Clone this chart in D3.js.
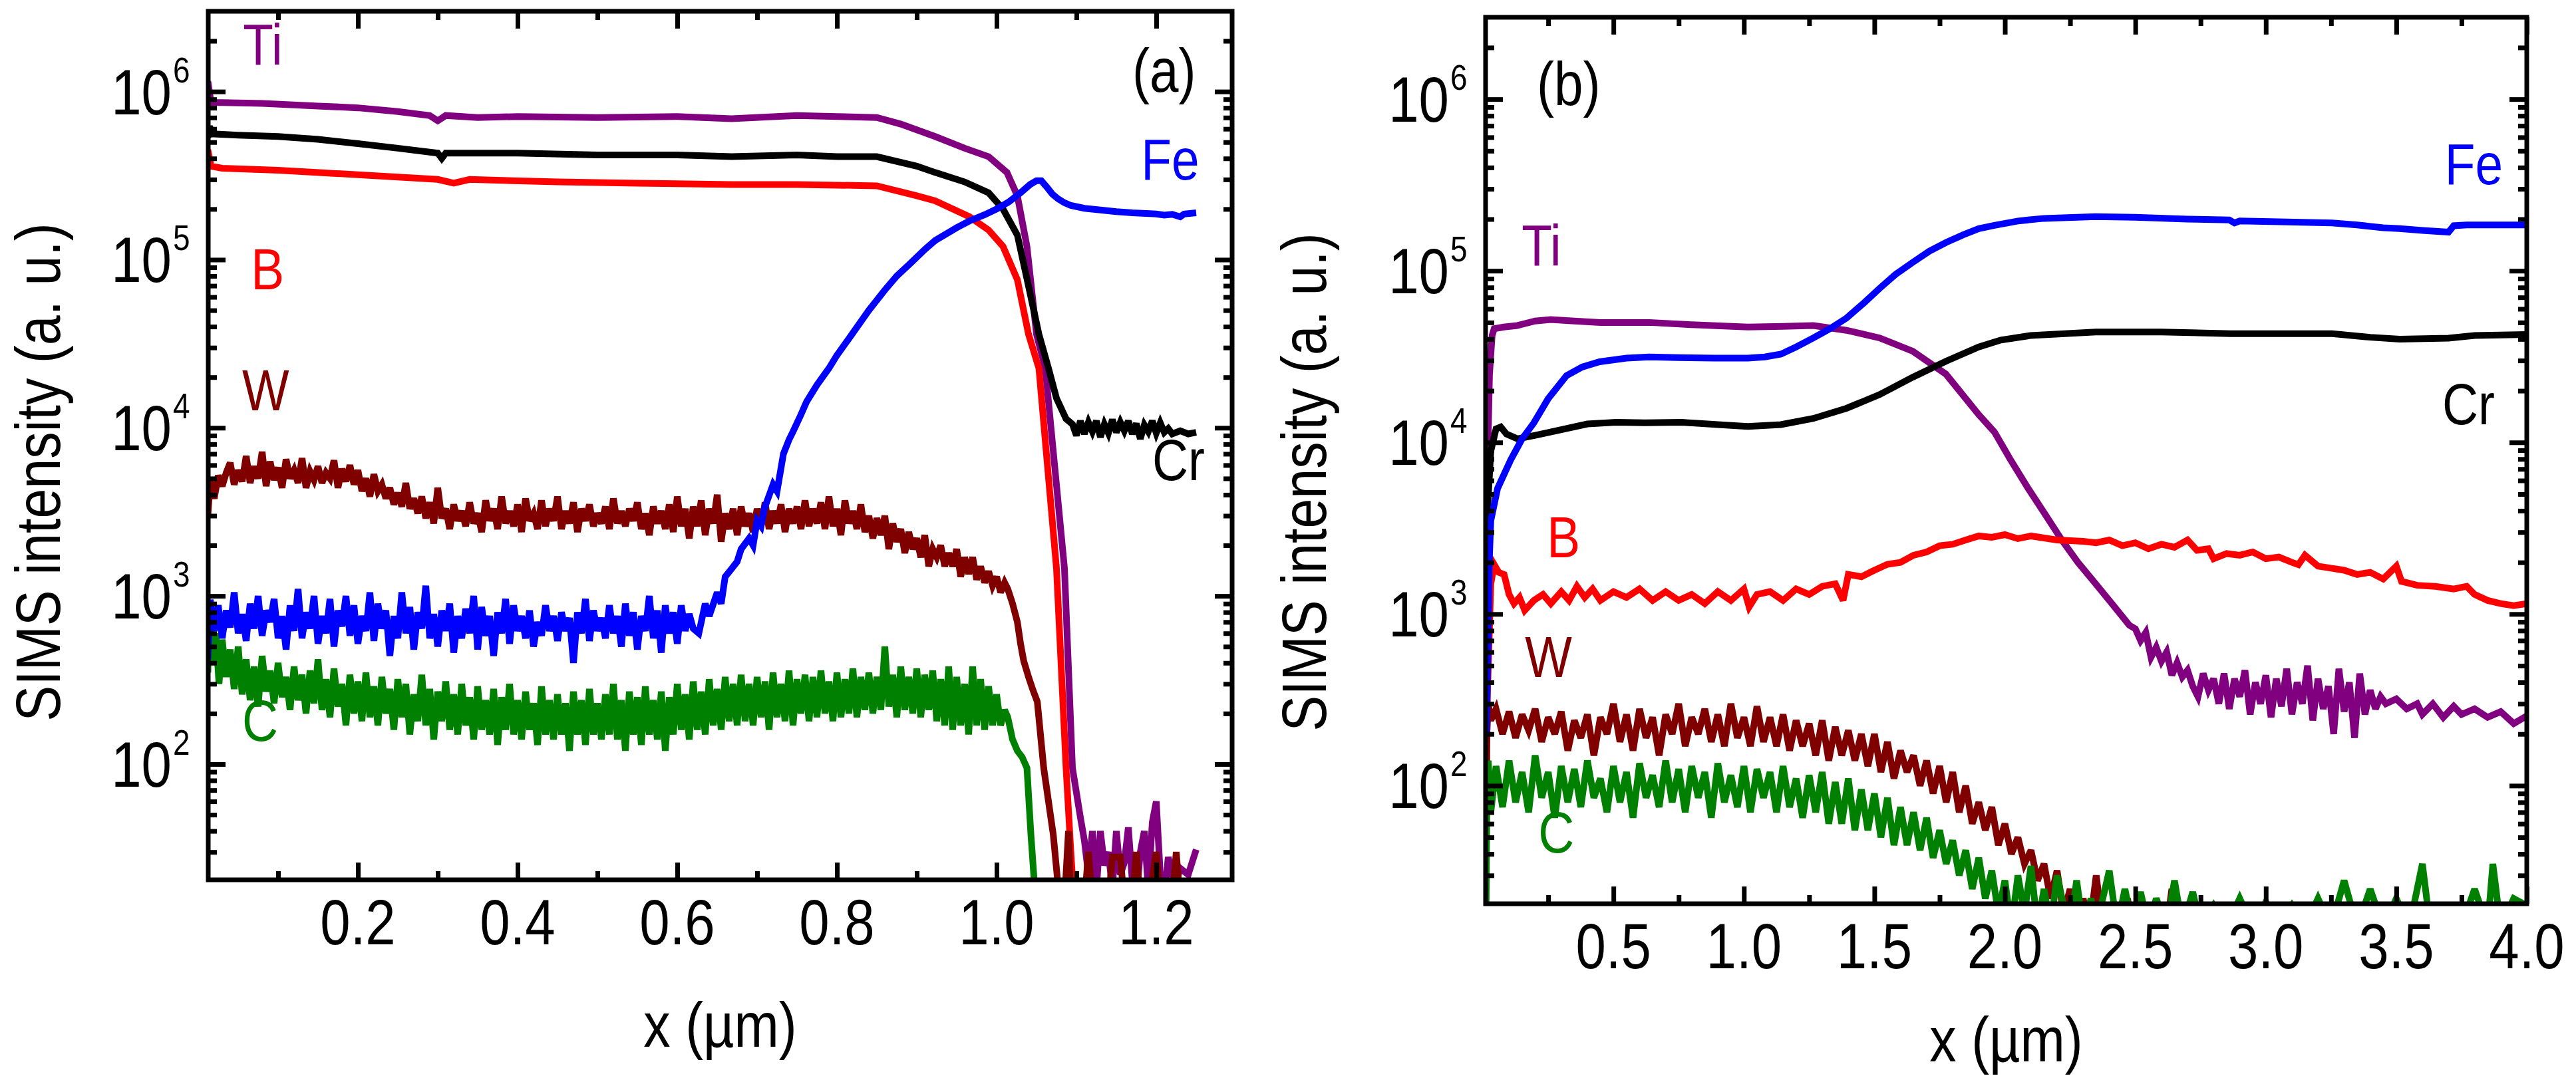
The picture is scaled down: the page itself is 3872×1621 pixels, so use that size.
<!DOCTYPE html>
<html>
<head>
<meta charset="utf-8">
<script src="https://cdn.jsdelivr.net/npm/d3@7"></script>
<style>
  html, body { margin: 0; padding: 0; background: #fff; }
  svg text { font-family: "Liberation Sans", Arial, sans-serif; }
</style>
</head>
<body>
<svg id="chart" width="3872" height="1621"></svg>
<script>
// ---------- data, panel (a) : [x (um), intensity] ----------
const tiA = [[0.012,1.15e6],[0.016,8.6e5],[0.03,8.6e5],[0.08,8.5e5],[0.15,8.2e5],[0.2,8.0e5],[0.25,7.6e5],[0.29,7.2e5],[0.3,6.7e5],[0.31,7.2e5],[0.35,7.0e5],[0.4,7.1e5],[0.5,7.0e5],[0.6,7.1e5],[0.668,6.9e5],[0.75,7.2e5],[0.8,7.1e5],[0.85,7.0e5],[0.88,6.4e5],[0.923,5.4e5],[0.96,4.6e5],[0.99,4.1e5],[1.013,3.3e5],[1.026,2.4e5],[1.038,1.2e5],[1.05,3.6e4],[1.061,2.26e4],[1.085,1.46e3],[1.095,95],[1.105,48],[1.11,35],[1.115,22],[1.12,40],[1.125,18],[1.13,40],[1.135,25],[1.14,30],[1.145,18],[1.15,40],[1.155,22],[1.16,26],[1.165,42],[1.17,20],[1.175,16],[1.18,30],[1.185,40],[1.19,18],[1.195,45],[1.2,60],[1.205,22],[1.21,16],[1.215,28],[1.22,22],[1.225,20],[1.23,24],[1.24,22],[1.25,31]];
const crA = [[0.012,5.3e5],[0.014,6.2e5],[0.018,5.6e5],[0.05,5.5e5],[0.1,5.4e5],[0.15,5.2e5],[0.2,4.9e5],[0.25,4.6e5],[0.3,4.3e5],[0.305,4.0e5],[0.31,4.3e5],[0.4,4.3e5],[0.5,4.2e5],[0.6,4.2e5],[0.668,4.1e5],[0.75,4.2e5],[0.8,4.1e5],[0.85,4.1e5],[0.9,3.6e5],[0.923,3.3e5],[0.96,2.9e5],[0.99,2.5e5],[1.008,2.0e5],[1.026,1.4e5],[1.038,7.7e4],[1.053,3.6e4],[1.065,2.26e4],[1.075,1.5e4],[1.087,1.13e4],[1.095,1.05e4],[1.1,9.0e3],[1.105,1.1e4],[1.11,9.2e3],[1.115,1.08e4],[1.12,9.5e3],[1.125,1.1e4],[1.13,8.8e3],[1.135,1.05e4],[1.14,9.3e3],[1.145,1.12e4],[1.15,9.4e3],[1.155,1.08e4],[1.16,9.6e3],[1.165,1.1e4],[1.17,9.2e3],[1.175,1.06e4],[1.18,8.6e3],[1.185,1.04e4],[1.19,9.5e3],[1.195,1.1e4],[1.2,9.3e3],[1.205,1.07e4],[1.21,9.4e3],[1.215,9.9e3],[1.22,9.2e3],[1.23,9.6e3],[1.24,9.2e3],[1.25,9.4e3]];
const bA = [[0.012,4.5e5],[0.016,3.6e5],[0.03,3.5e5],[0.1,3.4e5],[0.2,3.2e5],[0.3,3.0e5],[0.32,2.85e5],[0.34,3.0e5],[0.45,2.9e5],[0.55,2.85e5],[0.668,2.8e5],[0.75,2.8e5],[0.85,2.75e5],[0.9,2.4e5],[0.923,2.24e5],[0.966,1.8e5],[0.99,1.5e5],[1.008,1.2e5],[1.026,7.6e4],[1.04,3.6e4],[1.053,2.26e4],[1.075,1.46e3],[1.087,95],[1.093,30],[1.097,15]];
const feA = [[0.012,420],[0.015,950],[0.02,620],[0.025,880],[0.03,560],[0.035,820],[0.04,650],[0.045,1050],[0.05,600],[0.055,780],[0.06,540],[0.065,900],[0.07,640],[0.075,1000],[0.08,580],[0.085,820],[0.09,700],[0.095,960],[0.1,560],[0.105,760],[0.11,480],[0.115,880],[0.12,620],[0.125,1100],[0.13,560],[0.135,800],[0.14,640],[0.145,1000],[0.15,520],[0.155,760],[0.16,600],[0.165,960],[0.17,500],[0.175,820],[0.18,660],[0.185,1000],[0.19,580],[0.195,880],[0.2,520],[0.205,760],[0.21,620],[0.215,1050],[0.22,540],[0.225,900],[0.23,640],[0.235,820],[0.24,440],[0.245,760],[0.25,560],[0.255,1050],[0.26,600],[0.265,860],[0.27,480],[0.275,800],[0.28,640],[0.285,1150],[0.29,560],[0.295,780],[0.3,500],[0.305,820],[0.31,620],[0.315,900],[0.32,460],[0.325,760],[0.33,560],[0.335,840],[0.34,600],[0.345,1000],[0.35,480],[0.355,860],[0.36,580],[0.365,760],[0.37,440],[0.375,800],[0.38,600],[0.385,960],[0.39,520],[0.395,880],[0.4,620],[0.405,760],[0.41,560],[0.415,820],[0.42,500],[0.425,700],[0.43,580],[0.435,880],[0.44,620],[0.445,760],[0.45,540],[0.455,800],[0.46,620],[0.465,740],[0.47,400],[0.475,800],[0.48,600],[0.485,960],[0.49,540],[0.495,820],[0.5,620],[0.505,740],[0.51,560],[0.515,880],[0.52,600],[0.525,760],[0.53,500],[0.535,900],[0.54,580],[0.545,800],[0.55,480],[0.555,760],[0.56,620],[0.565,1000],[0.57,560],[0.575,820],[0.58,460],[0.585,880],[0.59,600],[0.595,800],[0.6,520],[0.605,880],[0.61,620],[0.615,780],[0.62,640],[0.627,600],[0.635,900],[0.64,760],[0.65,1050],[0.655,900],[0.66,1300],[0.668,1450],[0.675,1600],[0.68,1900],[0.69,2200],[0.695,2000],[0.7,2800],[0.705,2600],[0.709,3300],[0.72,4600],[0.725,4200],[0.733,7000],[0.74,8500],[0.745,9500],[0.755,1.2e4],[0.762,1.43e4],[0.775,1.8e4],[0.79,2.26e4],[0.8,2.7e4],[0.817,3.5e4],[0.84,5.0e4],[0.86,6.6e4],[0.875,8.0e4],[0.893,9.6e4],[0.91,1.15e5],[0.923,1.3e5],[0.95,1.55e5],[0.966,1.7e5],[0.985,1.85e5],[1.0,2.0e5],[1.015,2.2e5],[1.03,2.5e5],[1.042,2.8e5],[1.05,2.95e5],[1.056,2.95e5],[1.063,2.7e5],[1.07,2.45e5],[1.077,2.3e5],[1.085,2.18e5],[1.093,2.1e5],[1.11,2.02e5],[1.136,1.96e5],[1.15,1.93e5],[1.17,1.9e5],[1.2,1.87e5],[1.21,1.84e5],[1.22,1.86e5],[1.23,1.8e5],[1.235,1.87e5],[1.25,1.9e5]];
const wA = [[0.012,3000],[0.015,4800],[0.02,3800],[0.025,5200],[0.03,4500],[0.035,5400],[0.04,6200],[0.045,4600],[0.05,5600],[0.055,4800],[0.06,6800],[0.065,4700],[0.07,5900],[0.075,5000],[0.08,7200],[0.085,4500],[0.09,6300],[0.095,4900],[0.1,5800],[0.105,4400],[0.11,6500],[0.115,5000],[0.12,5600],[0.125,4700],[0.13,6600],[0.135,4400],[0.14,5500],[0.145,4900],[0.15,5900],[0.155,4700],[0.16,5400],[0.165,5000],[0.17,6400],[0.175,4400],[0.18,5700],[0.185,4800],[0.19,6000],[0.195,4600],[0.2,5600],[0.205,4200],[0.21,5000],[0.215,3900],[0.22,5300],[0.225,4200],[0.23,4600],[0.235,3800],[0.24,4400],[0.245,3500],[0.25,4100],[0.255,3400],[0.26,4700],[0.265,3300],[0.27,3800],[0.275,3100],[0.28,3900],[0.285,2900],[0.29,3600],[0.295,2700],[0.3,4400],[0.305,2900],[0.31,3300],[0.315,2500],[0.32,3500],[0.325,2800],[0.33,3200],[0.335,2600],[0.34,3600],[0.345,2700],[0.35,3100],[0.355,2400],[0.36,3700],[0.365,2800],[0.37,3300],[0.375,2500],[0.38,3900],[0.385,2700],[0.39,3200],[0.395,2600],[0.4,3500],[0.405,2400],[0.41,3800],[0.415,2800],[0.42,3100],[0.425,2500],[0.43,3700],[0.435,2600],[0.44,3300],[0.445,2800],[0.45,3900],[0.455,2500],[0.46,3200],[0.465,2700],[0.47,3600],[0.475,2400],[0.48,3300],[0.485,2800],[0.49,3500],[0.495,2600],[0.5,3100],[0.505,2700],[0.51,3400],[0.515,2500],[0.52,3800],[0.525,2700],[0.53,3200],[0.535,2600],[0.54,3300],[0.545,2800],[0.55,3600],[0.555,2500],[0.56,3100],[0.565,2300],[0.57,3400],[0.575,2700],[0.58,3200],[0.585,2500],[0.59,3500],[0.595,2400],[0.6,3900],[0.605,2600],[0.61,3300],[0.615,2200],[0.62,3400],[0.625,2600],[0.63,3700],[0.635,2300],[0.64,3300],[0.645,2700],[0.65,4000],[0.655,2100],[0.66,3100],[0.665,2500],[0.67,3300],[0.675,2300],[0.68,3400],[0.685,2600],[0.69,3100],[0.695,2400],[0.7,3300],[0.705,2600],[0.71,3600],[0.715,2500],[0.72,3200],[0.725,2700],[0.73,3500],[0.735,2400],[0.74,3300],[0.745,2700],[0.75,3400],[0.755,2500],[0.76,3700],[0.765,2600],[0.77,3300],[0.775,2700],[0.78,3600],[0.785,2500],[0.79,3900],[0.795,2600],[0.8,3300],[0.805,2300],[0.81,3700],[0.815,2700],[0.82,3200],[0.825,2500],[0.83,3500],[0.835,2400],[0.84,3000],[0.845,2200],[0.85,2900],[0.855,2300],[0.86,3000],[0.865,1900],[0.87,2700],[0.875,2100],[0.88,2500],[0.885,1800],[0.89,2400],[0.895,1900],[0.9,2200],[0.905,1700],[0.91,2300],[0.915,1500],[0.92,1900],[0.925,1700],[0.93,2000],[0.935,1500],[0.94,1800],[0.945,1500],[0.95,1900],[0.955,1300],[0.96,1700],[0.965,1350],[0.97,1700],[0.975,1250],[0.98,1500],[0.985,1200],[0.99,1400],[0.995,1150],[1.0,1300],[1.005,1050],[1.01,1200],[1.014,1100],[1.02,900],[1.026,700],[1.03,520],[1.034,410],[1.04,330],[1.045,280],[1.051,235],[1.059,95],[1.065,60],[1.071,38],[1.079,15],[1.085,15],[1.09,40],[1.093,15],[1.11,15],[1.115,30],[1.12,15],[1.14,15],[1.145,28],[1.155,28],[1.16,15],[1.17,15],[1.175,30],[1.18,15],[1.19,15],[1.2,30],[1.205,15],[1.22,15],[1.225,30],[1.23,15]];
const cA = [[0.012,350],[0.014,780],[0.018,400],[0.022,600],[0.026,300],[0.03,550],[0.035,330],[0.04,480],[0.045,280],[0.05,500],[0.055,260],[0.06,420],[0.065,240],[0.07,380],[0.075,220],[0.08,440],[0.085,270],[0.09,360],[0.095,230],[0.1,400],[0.105,250],[0.11,330],[0.115,210],[0.12,380],[0.125,240],[0.13,340],[0.135,200],[0.14,360],[0.145,230],[0.15,420],[0.155,210],[0.16,320],[0.165,190],[0.17,370],[0.175,220],[0.18,300],[0.185,170],[0.19,340],[0.195,200],[0.2,310],[0.205,180],[0.21,350],[0.215,190],[0.22,290],[0.225,170],[0.23,330],[0.235,200],[0.24,280],[0.245,160],[0.25,320],[0.255,190],[0.26,300],[0.265,150],[0.27,260],[0.275,180],[0.28,340],[0.285,170],[0.29,280],[0.295,140],[0.3,270],[0.305,180],[0.31,310],[0.315,160],[0.32,260],[0.325,150],[0.33,300],[0.335,170],[0.34,250],[0.345,140],[0.35,290],[0.355,160],[0.36,240],[0.365,150],[0.37,280],[0.375,130],[0.38,250],[0.385,160],[0.39,300],[0.395,150],[0.4,240],[0.405,140],[0.41,270],[0.415,160],[0.42,230],[0.425,130],[0.43,290],[0.435,150],[0.44,240],[0.445,140],[0.45,260],[0.455,150],[0.46,230],[0.465,120],[0.47,270],[0.475,150],[0.48,240],[0.485,130],[0.49,280],[0.495,150],[0.5,230],[0.505,140],[0.51,260],[0.515,150],[0.52,300],[0.525,140],[0.53,240],[0.535,120],[0.54,270],[0.545,150],[0.55,250],[0.555,130],[0.56,290],[0.565,150],[0.57,240],[0.575,140],[0.58,270],[0.585,120],[0.59,250],[0.595,150],[0.6,300],[0.605,160],[0.61,260],[0.615,140],[0.62,310],[0.625,160],[0.63,270],[0.635,150],[0.64,320],[0.645,170],[0.65,280],[0.655,160],[0.66,330],[0.665,180],[0.67,300],[0.675,170],[0.68,340],[0.685,180],[0.69,300],[0.695,170],[0.7,330],[0.705,190],[0.71,310],[0.715,160],[0.72,350],[0.725,190],[0.73,300],[0.735,180],[0.74,360],[0.745,170],[0.75,320],[0.755,200],[0.76,340],[0.765,180],[0.77,330],[0.775,190],[0.78,360],[0.785,200],[0.79,310],[0.795,180],[0.8,350],[0.805,190],[0.81,320],[0.815,200],[0.82,370],[0.825,190],[0.83,330],[0.835,210],[0.84,350],[0.845,200],[0.85,330],[0.855,210],[0.86,500],[0.865,220],[0.87,340],[0.875,190],[0.88,380],[0.885,210],[0.89,330],[0.895,200],[0.9,370],[0.905,190],[0.91,340],[0.915,210],[0.92,360],[0.925,180],[0.93,320],[0.935,170],[0.94,380],[0.945,160],[0.95,330],[0.955,170],[0.96,300],[0.965,150],[0.97,380],[0.975,170],[0.98,320],[0.985,160],[0.99,290],[0.995,170],[1.0,260],[1.005,170],[1.01,210],[1.014,190],[1.02,140],[1.026,120],[1.032,110],[1.038,95],[1.043,38],[1.049,15],[1.06,15]];

// ---------- data, panel (b) ----------
const tiB = [[0.012,300],[0.018,7.9e3],[0.025,2.5e4],[0.035,4.2e4],[0.043,4.6e4],[0.08,4.7e4],[0.132,4.8e4],[0.2,5.1e4],[0.259,5.2e4],[0.35,5.1e4],[0.45,5.0e4],[0.637,5.0e4],[0.8,4.85e4],[1.015,4.7e4],[1.15,4.75e4],[1.266,4.8e4],[1.393,4.5e4],[1.52,4.06e4],[1.647,3.4e4],[1.774,2.5e4],[1.9,1.45e4],[1.96,1.15e4],[2.02,8.0e3],[2.089,5.4e3],[2.15,3.9e3],[2.218,2.7e3],[2.28,2.0e3],[2.348,1.5e3],[2.41,1.15e3],[2.477,860],[2.5,820],[2.52,700],[2.54,780],[2.56,560],[2.58,640],[2.6,530],[2.62,600],[2.64,440],[2.66,520],[2.68,430],[2.7,470],[2.72,380],[2.74,330],[2.76,450],[2.78,360],[2.8,420],[2.82,300],[2.84,450],[2.86,280],[2.88,420],[2.9,330],[2.92,470],[2.94,260],[2.96,400],[2.98,300],[3.0,440],[3.02,250],[3.04,420],[3.06,290],[3.08,480],[3.1,260],[3.12,400],[3.14,300],[3.16,500],[3.18,240],[3.2,420],[3.22,280],[3.24,380],[3.26,200],[3.28,480],[3.3,270],[3.32,400],[3.34,190],[3.36,450],[3.38,260],[3.4,360],[3.42,280],[3.44,330],[3.46,300],[3.5,320],[3.54,280],[3.58,300],[3.6,260],[3.64,300],[3.68,250],[3.72,290],[3.75,260],[3.8,280],[3.85,250],[3.9,270],[3.95,230],[4.0,255]];
const feB = [[0.012,200],[0.018,510],[0.024,2000],[0.03,3500],[0.056,5400],[0.106,7900],[0.15,1.05e4],[0.195,1.3e4],[0.25,1.8e4],[0.32,2.45e4],[0.38,2.75e4],[0.447,2.95e4],[0.55,3.1e4],[0.637,3.15e4],[0.75,3.12e4],[0.888,3.1e4],[1.015,3.1e4],[1.08,3.15e4],[1.142,3.27e4],[1.2,3.6e4],[1.266,4.06e4],[1.33,4.6e4],[1.393,5.3e4],[1.46,6.5e4],[1.52,7.9e4],[1.58,9.5e4],[1.647,1.12e5],[1.71,1.3e5],[1.774,1.46e5],[1.84,1.62e5],[1.9,1.76e5],[1.96,1.84e5],[2.05,1.95e5],[2.15,2.02e5],[2.348,2.07e5],[2.5,2.05e5],[2.7,2.0e5],[2.86,1.98e5],[2.88,1.9e5],[2.9,1.95e5],[3.05,1.93e5],[3.254,1.9e5],[3.35,1.85e5],[3.45,1.78e5],[3.513,1.76e5],[3.6,1.72e5],[3.7,1.68e5],[3.72,1.83e5],[3.77,1.85e5],[4.0,1.85e5]];
const crB = [[0.012,700],[0.018,4.2e3],[0.03,8.9e3],[0.05,1.2e4],[0.068,1.23e4],[0.09,1.12e4],[0.132,1.05e4],[0.2,1.1e4],[0.259,1.15e4],[0.4,1.28e4],[0.51,1.31e4],[0.62,1.3e4],[0.762,1.31e4],[0.9,1.27e4],[1.015,1.24e4],[1.142,1.27e4],[1.266,1.38e4],[1.393,1.58e4],[1.52,1.9e4],[1.647,2.4e4],[1.774,2.97e4],[1.9,3.6e4],[1.985,3.95e4],[2.1,4.2e4],[2.348,4.4e4],[2.6,4.4e4],[2.866,4.3e4],[3.1,4.3e4],[3.254,4.3e4],[3.4,4.1e4],[3.513,4.0e4],[3.7,4.05e4],[3.8,4.2e4],[4.0,4.25e4]];
const bB = [[0.012,150],[0.018,380],[0.03,1500],[0.043,1940],[0.06,1750],[0.081,1700],[0.1,1300],[0.119,1150],[0.14,1250],[0.16,1050],[0.195,1200],[0.23,1300],[0.26,1150],[0.3,1350],[0.33,1200],[0.36,1450],[0.39,1250],[0.42,1400],[0.45,1200],[0.5,1350],[0.55,1250],[0.6,1400],[0.65,1200],[0.7,1350],[0.75,1200],[0.8,1300],[0.85,1150],[0.9,1350],[0.95,1200],[1.0,1400],[1.02,1100],[1.05,1300],[1.1,1350],[1.15,1200],[1.2,1400],[1.25,1300],[1.3,1450],[1.35,1500],[1.38,1200],[1.4,1700],[1.45,1650],[1.5,1800],[1.55,1950],[1.6,2000],[1.65,2200],[1.7,2300],[1.75,2500],[1.8,2550],[1.85,2700],[1.9,2850],[1.95,2800],[2.0,2900],[2.05,2750],[2.1,2850],[2.2,2700],[2.3,2650],[2.35,2600],[2.4,2700],[2.45,2500],[2.5,2600],[2.55,2400],[2.6,2550],[2.65,2450],[2.7,2700],[2.736,2350],[2.78,2400],[2.8,2100],[2.85,2250],[2.9,2200],[2.95,2300],[3.0,2100],[3.05,2150],[3.1,2000],[3.125,1940],[3.15,2200],[3.2,1900],[3.25,1850],[3.3,1800],[3.35,1700],[3.4,1750],[3.45,1600],[3.5,1900],[3.52,1550],[3.58,1470],[3.65,1450],[3.72,1400],[3.77,1450],[3.8,1300],[3.85,1200],[3.9,1150],[3.95,1120],[4.0,1150]];
const wB = [[0.012,30],[0.015,200],[0.02,300],[0.03,240],[0.05,280],[0.075,200],[0.1,270],[0.125,190],[0.15,260],[0.175,210],[0.2,280],[0.225,180],[0.25,250],[0.275,200],[0.3,270],[0.325,160],[0.35,240],[0.375,190],[0.4,260],[0.425,150],[0.45,250],[0.475,200],[0.5,300],[0.525,180],[0.55,260],[0.575,160],[0.6,280],[0.625,190],[0.65,250],[0.675,150],[0.7,260],[0.725,200],[0.75,300],[0.775,170],[0.8,250],[0.825,200],[0.85,280],[0.875,180],[0.9,260],[0.925,170],[0.95,300],[0.975,190],[1.0,250],[1.025,170],[1.05,290],[1.075,180],[1.1,250],[1.125,170],[1.15,260],[1.175,160],[1.2,240],[1.225,170],[1.25,230],[1.275,150],[1.3,240],[1.325,140],[1.35,220],[1.375,150],[1.4,210],[1.425,140],[1.45,200],[1.475,130],[1.5,200],[1.525,120],[1.55,180],[1.575,110],[1.6,160],[1.625,120],[1.65,150],[1.675,100],[1.7,140],[1.725,90],[1.75,130],[1.775,80],[1.8,120],[1.825,70],[1.85,100],[1.875,60],[1.9,80],[1.925,55],[1.95,75],[1.975,45],[2.0,60],[2.025,40],[2.05,50],[2.075,35],[2.1,42],[2.125,28],[2.15,35],[2.175,22],[2.2,32],[2.225,18],[2.25,25],[2.275,15],[2.3,22],[2.325,15],[2.35,30],[2.375,15],[2.45,15],[2.47,22],[2.49,15],[2.62,15],[2.64,25],[2.66,15],[4.0,15]];
const cB = [[0.012,20],[0.015,100],[0.02,140],[0.03,70],[0.05,130],[0.075,75],[0.1,140],[0.125,80],[0.15,120],[0.175,70],[0.2,150],[0.225,85],[0.25,120],[0.275,65],[0.3,130],[0.325,80],[0.35,125],[0.375,75],[0.4,140],[0.425,85],[0.45,110],[0.475,70],[0.5,130],[0.525,80],[0.55,120],[0.575,65],[0.6,135],[0.625,85],[0.65,115],[0.675,75],[0.7,140],[0.725,80],[0.75,125],[0.775,70],[0.8,130],[0.825,85],[0.85,120],[0.875,65],[0.9,135],[0.925,80],[0.95,115],[0.975,75],[1.0,130],[1.025,70],[1.05,125],[1.075,85],[1.1,120],[1.125,70],[1.15,130],[1.175,75],[1.2,110],[1.225,65],[1.25,115],[1.275,70],[1.3,120],[1.325,60],[1.35,105],[1.375,60],[1.4,110],[1.425,55],[1.45,95],[1.475,55],[1.5,90],[1.525,50],[1.55,85],[1.575,45],[1.6,75],[1.625,45],[1.65,70],[1.675,42],[1.7,65],[1.725,38],[1.75,55],[1.775,35],[1.8,48],[1.825,30],[1.85,42],[1.875,25],[1.9,38],[1.925,22],[1.95,32],[1.975,18],[2.0,28],[2.025,15],[2.05,30],[2.075,18],[2.1,34],[2.125,15],[2.15,25],[2.175,15],[2.2,30],[2.225,20],[2.25,15],[2.275,28],[2.3,15],[2.33,22],[2.35,15],[2.4,32],[2.43,15],[2.46,25],[2.49,15],[2.52,24],[2.55,15],[2.58,22],[2.62,15],[2.65,28],[2.68,15],[2.72,24],[2.75,15],[2.8,20],[2.85,15],[2.9,22],[2.95,15],[3.0,21],[3.05,15],[3.1,20],[3.15,15],[3.2,22],[3.25,15],[3.3,28],[3.35,15],[3.4,25],[3.45,15],[3.5,22],[3.55,15],[3.6,35],[3.63,15],[3.7,18],[3.75,15],[3.8,25],[3.85,15],[3.87,35],[3.9,15],[3.95,22],[4.0,20]];

// ---------- ticks ----------
const yMajor = [1e2, 1e3, 1e4, 1e5, 1e6];
const yExp = ["2", "3", "4", "5", "6"];
const xMajorA = [0.2, 0.4, 0.6, 0.8, 1.0, 1.2];
const xMinorA = [0.1, 0.3, 0.5, 0.7, 0.9, 1.1];
const xMajorB = [0.5, 1.0, 1.5, 2.0, 2.5, 3.0, 3.5, 4.0];
const xMinorB = [0.25, 0.75, 1.25, 1.75, 2.25, 2.75, 3.25, 3.75];

const colors = { Ti: "#800080", Cr: "#000000", B: "#ff0000", Fe: "#0000ff", W: "#800000", C: "#008000" };

const panels = [
  {
    id: "a", left: 313, right: 1852, top: 17, bottom: 1323,
    xDomain: [0.0125, 1.295], xMajor: xMajorA, xMinor: xMinorA,
    series: [["Ti", tiA], ["Cr", crA], ["B", bA], ["W", wA], ["C", cA], ["Fe", feA]],
    labels: [["Ti", 0.056, 1.45e6], ["B", 0.066, 6.67e4], ["W", 0.055, 1.27e4], ["C", 0.055, 137],
             ["Fe", 1.181, 3.0e5], ["Cr", 1.195, 4.9e3]],
    tag: ["(a)", 1.17, 1.0e6], yTitleX: 90, yTitleY: 710, xTitleDy: 251
  },
  {
    id: "b", left: 2233, right: 3798, top: 26, bottom: 1359,
    xDomain: [0.01, 4.0], xMajor: xMajorB, xMinor: xMinorB,
    series: [["Ti", tiB], ["Cr", crB], ["B", bB], ["W", wB], ["C", cB], ["Fe", feB]],
    labels: [["Ti", 0.148, 1.08e5], ["Fe", 3.686, 3.19e5], ["Cr", 3.676, 1.27e4], ["B", 0.245, 2.15e3],
             ["W", 0.161, 429], ["C", 0.212, 40.6]],
    tag: ["(b)", 0.206, 9.2e5], yTitleX: 1993, yTitleY: 725, xTitleDy: 237
  }
];

const svg = d3.select("#chart");

// the original figure uses a condensed sans face, so squeeze the text horizontally
function addText(parent, x, y, str, size, anchor, color, rotate)
{
  return parent.append("text")
    .attr("transform", `translate(${ x },${ y })${ rotate ? " rotate(-90)" : "" } scale(0.85,1)`)
    .attr("text-anchor", anchor)
    .attr("fill", color)
    .style("font-size", size + "px")
    .text(str);
}

function drawPanel(p)
{
  const x = d3.scaleLinear().domain(p.xDomain).range([p.left, p.right]);
  const y = d3.scaleLog().domain([20.5, 3e6]).range([p.bottom, p.top]);

  // clip the curves to the frame
  svg.append("clipPath").attr("id", "clip-" + p.id)
    .append("rect")
    .attr("x", p.left).attr("y", p.top)
    .attr("width", p.right - p.left).attr("height", p.bottom - p.top);

  const line = d3.line().x(d => x(d[0])).y(d => y(d[1]));

  svg.append("g")
    .attr("clip-path", `url(#clip-${ p.id })`)
    .selectAll("path")
    .data(p.series)
    .join("path")
    .attr("d", d => line(d[1]))
    .attr("fill", "none")
    .attr("stroke", d => colors[d[0]])
    .attr("stroke-width", 10)
    .attr("stroke-linejoin", "miter")
    .attr("stroke-miterlimit", 3);

  // minor log ticks, skip decades and the frame edges
  const yMinor = y.ticks().filter(v => !yMajor.includes(v) && y(v) > p.top + 6 && y(v) < p.bottom - 6);

  const axes = [
    [d3.axisBottom(x), `translate(0,${ p.bottom })`, p.xMajor, p.xMinor],
    [d3.axisTop(x), `translate(0,${ p.top })`, p.xMajor, p.xMinor],
    [d3.axisLeft(y), `translate(${ p.left },0)`, yMajor, yMinor],
    [d3.axisRight(y), `translate(${ p.right },0)`, yMajor, yMinor]
  ];
  axes.forEach(([axis, tr, major, minor]) =>
  {
    [[major, 26], [minor, 13]].forEach(([vals, len]) =>
    {
      const g = svg.append("g").attr("transform", tr)
        .call(axis.tickValues(vals).tickSize(-len).tickFormat(""));
      g.select(".domain").remove();
      g.selectAll("line").attr("stroke", "#000").attr("stroke-width", 7);
    });
  });

  // frame
  svg.append("rect")
    .attr("x", p.left).attr("y", p.top)
    .attr("width", p.right - p.left).attr("height", p.bottom - p.top)
    .attr("fill", "none").attr("stroke", "#000").attr("stroke-width", 7);

  // x tick labels
  const xl = svg.append("g");
  p.xMajor.forEach(v => addText(xl, x(v), p.bottom + 97, d3.format(".1f")(v), 96, "middle", "#000"));

  // y tick labels 10^n
  const yl = svg.append("g");
  yMajor.forEach((v, i) =>
  {
    addText(yl, p.left - 55, y(v) + 34, "10", 96, "end", "#000");
    addText(yl, p.left - 53, y(v) - 14, yExp[i], 54, "start", "#000");
  });

  // axis titles
  addText(svg, p.yTitleX, p.yTitleY, "SIMS intensity (a. u.)", 95, "middle", "#000", true);
  addText(svg, (p.left + p.right) / 2, p.bottom + p.xTitleDy, "x (\u00b5m)", 95, "middle", "#000");

  // element labels and panel tag
  p.labels.forEach(d => addText(svg, x(d[1]), y(d[2]), d[0], 88, "start", colors[d[0]]));
  addText(svg, x(p.tag[1]), y(p.tag[2]), p.tag[0], 92, "start", "#000");
}

panels.forEach(drawPanel);
</script>
</body>
</html>
